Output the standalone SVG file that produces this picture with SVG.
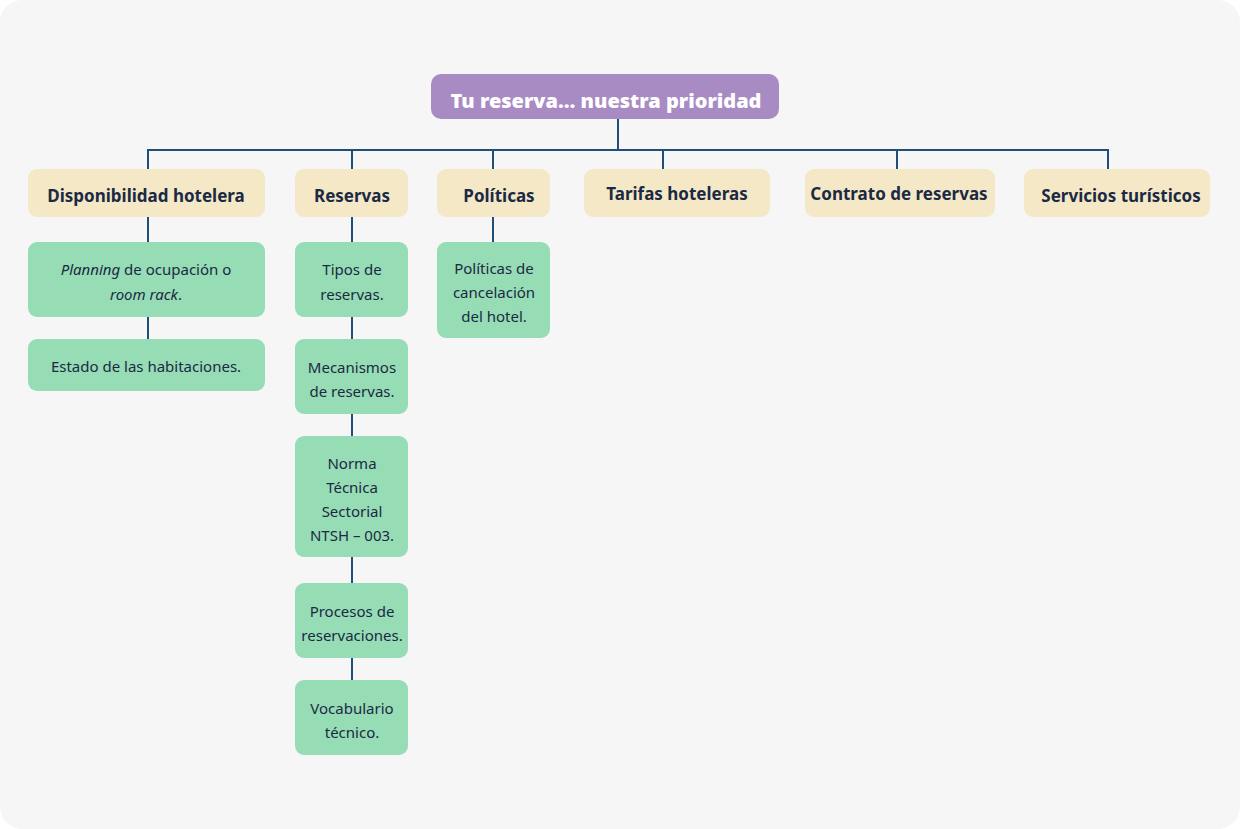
<svg xmlns="http://www.w3.org/2000/svg" width="1240" height="829" viewBox="0 0 1240 829">
<style>
.bg{fill:#f6f6f6}
.root{fill:#a98bc4}
.cat{fill:#f5e8c6}
.leaf{fill:#96dcb5}
.t{font-family:"Noto Sans","Open Sans",sans-serif;fill:#1b2a44;text-anchor:middle}
.rt{font-family:"Noto Sans","Open Sans",sans-serif;fill:#ffffff;font-weight:900;font-size:20px;text-anchor:middle}
.h{font-weight:bold;font-size:17px}
.b{font-size:15px}
.c{fill:none;stroke:#1f4e79;stroke-width:2}
</style>
<rect class="bg" x="0" y="0" width="1240" height="829" rx="22"/>
<g id="connectors">
<path class="c" d="M618 119V150M148 169V150H1108V169M352 150V169M493 150V169M663 150V169M897 150V169"/>
<path class="c" d="M148 217V242M148 317V339M352 217V242M352 317V339M352 414V436M352 557V583M352 658V680M493 217V242"/>
</g>
<g id="root"><rect class="root" x="431" y="74" width="348" height="45" rx="10"/><text class="rt" x="606" y="108">Tu reserva… nuestra prioridad</text></g>
<g id="cat-disponibilidad"><rect class="cat" x="28" y="169" width="237" height="48" rx="9"/><text class="t h" x="146" y="202">Disponibilidad hotelera</text></g>
<g id="cat-reservas"><rect class="cat" x="295" y="169" width="113" height="48" rx="9"/><text class="t h" x="352" y="202">Reservas</text></g>
<g id="cat-politicas"><rect class="cat" x="437" y="169" width="113" height="48" rx="9"/><text class="t h" x="499" y="202">Políticas</text></g>
<g id="cat-tarifas"><rect class="cat" x="584" y="169" width="186" height="48" rx="9"/><text class="t h" x="677" y="200">Tarifas hoteleras</text></g>
<g id="cat-contrato"><rect class="cat" x="805" y="169" width="190" height="48" rx="9"/><text class="t h" x="899" y="200">Contrato de reservas</text></g>
<g id="cat-servicios"><rect class="cat" x="1024" y="169" width="186" height="48" rx="9"/><text class="t h" x="1121" y="202">Servicios turísticos</text></g>
<g id="leaf-planning"><rect class="leaf" x="28" y="242" width="237" height="75" rx="9"/><text class="t b" x="146" y="275"><tspan font-style="italic">Planning</tspan> de ocupación o</text><text class="t b" x="146" y="300"><tspan font-style="italic">room rack</tspan>.</text></g>
<g id="leaf-estado"><rect class="leaf" x="28" y="339" width="237" height="52" rx="9"/><text class="t b" x="146" y="372">Estado de las habitaciones.</text></g>
<g id="leaf-tipos"><rect class="leaf" x="295" y="242" width="113" height="75" rx="9"/><text class="t b" x="352" y="275">Tipos de</text><text class="t b" x="352" y="300">reservas.</text></g>
<g id="leaf-mecanismos"><rect class="leaf" x="295" y="339" width="113" height="75" rx="9"/><text class="t b" x="352" y="373">Mecanismos</text><text class="t b" x="352" y="397">de reservas.</text></g>
<g id="leaf-norma"><rect class="leaf" x="295" y="436" width="113" height="121" rx="9"/><text class="t b" x="352" y="469">Norma</text><text class="t b" x="352" y="493">Técnica</text><text class="t b" x="352" y="517">Sectorial</text><text class="t b" x="352" y="541">NTSH – 003.</text></g>
<g id="leaf-procesos"><rect class="leaf" x="295" y="583" width="113" height="75" rx="9"/><text class="t b" x="352" y="617">Procesos de</text><text class="t b" x="352" y="641">reservaciones.</text></g>
<g id="leaf-vocabulario"><rect class="leaf" x="295" y="680" width="113" height="75" rx="9"/><text class="t b" x="352" y="714">Vocabulario</text><text class="t b" x="352" y="738">técnico.</text></g>
<g id="leaf-cancelacion"><rect class="leaf" x="437" y="242" width="113" height="96" rx="9"/><text class="t b" x="494" y="274">Políticas de</text><text class="t b" x="494" y="298">cancelación</text><text class="t b" x="494" y="322">del hotel.</text></g>
</svg>
